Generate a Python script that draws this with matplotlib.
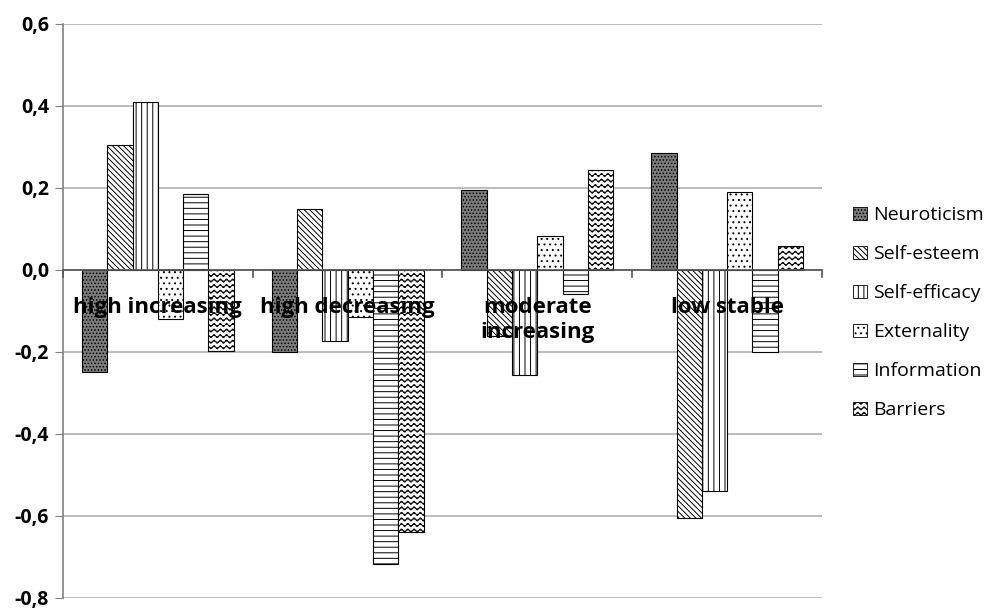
import numpy as np
import matplotlib
matplotlib.use("Agg")
import matplotlib.pyplot as plt
import matplotlib.hatch as mhatch
from matplotlib.path import Path
from matplotlib.patches import Patch
import warnings
warnings.filterwarnings("ignore")

categories = ["high increasing", "high decreasing", "moderate\nincreasing", "low stable"]
series = ["Neuroticism", "Self-esteem", "Self-efficacy", "Externality", "Information", "Barriers"]
neuroticism   = [-0.25, -0.20, 0.196, 0.286]
self_esteem   = [0.305, 0.148, -0.16, -0.605]
self_efficacy = [0.41, -0.172, -0.255, -0.538]
externality   = [-0.12, -0.114, 0.082, 0.19]
information   = [0.185, -0.718, -0.058, -0.20]
barriers      = [-0.197, -0.64, 0.245, 0.058]
values = [neuroticism, self_esteem, self_efficacy, externality, information, barriers]
yticks = [0.6, 0.4, 0.2, 0.0, -0.2, -0.4, -0.6, -0.8]


class WaveHatch(mhatch.HatchPatternBase):
    def __init__(self, hatch, density):
        self.num_lines = int(hatch.count('~') * density)
        self.nper = 16 * 8 + 1
        self.num_vertices = self.num_lines * self.nper

    def set_vertices_and_codes(self, vertices, codes):
        steps, stepsize = np.linspace(0.0, 1.0, self.num_lines, False, retstep=True)
        steps += stepsize / 2.
        t = np.linspace(0, 1, self.nper)
        amp = stepsize * 0.28
        for i, s in enumerate(steps):
            v = vertices[i * self.nper:(i + 1) * self.nper]
            v[:, 0] = t
            v[:, 1] = s + amp * np.sin(2 * np.pi * 16 * t)
            c = codes[i * self.nper:(i + 1) * self.nper]
            c[:] = Path.LINETO
            c[0] = Path.MOVETO


mhatch._hatch_types.append(WaveHatch)

plt.rcParams['font.family'] = ['Open Sans', 'DejaVu Sans']
plt.rcParams['hatch.linewidth'] = 0.7

fig = plt.figure(figsize=(9.87, 6.10), dpi=100)
ax = fig.add_axes([63 / 987, 12 / 610, (822 - 63) / 987, (598 - 24) / 610])

styles = [
    dict(facecolor='#7c7c7c', hatch='.....'),
    dict(facecolor='white', hatch='\\\\\\\\\\\\'),
    dict(facecolor='white', hatch='|||'),
    dict(facecolor='white', hatch='...'),
    dict(facecolor='white', hatch='---'),
    dict(facecolor='white', hatch='~~~'),
]

x = np.arange(len(categories))
n = len(series)
w = 0.8 / n
for i, (name, vals, st) in enumerate(zip(series, values, styles)):
    ax.bar(x - 0.4 + w * (i + 0.5), vals, width=w, edgecolor='black',
           linewidth=0.8, label=name, zorder=3, **st)

ax.set_xlim(-0.5, len(categories) - 0.5)
ax.set_ylim(-0.8, 0.6)
ax.set_yticks(yticks)
ax.set_yticklabels([f"{v:.1f}".replace('.', ',') for v in yticks],
                   fontsize=14, fontweight='bold')
ax.yaxis.grid(True, color='#b0b0b0', linewidth=1.2, zorder=0)
ax.tick_params(axis='y', length=6, color='#808080', pad=4)
ax.set_xticks([])
for s in ['top', 'right', 'bottom']:
    ax.spines[s].set_visible(False)
ax.spines['left'].set_color('#808080')
ax.spines['left'].set_linewidth(1.2)

# zero line with category tick marks
ax.axhline(0, color='#555555', linewidth=1.2, zorder=4)
for b in np.arange(len(categories) + 1) - 0.5:
    ax.plot([b, b], [0, -0.018], color='#555555', linewidth=1.2, zorder=4,
            clip_on=False)

for xi, c in zip(x, categories):
    ax.text(xi, -0.065, c, ha='center', va='top', fontsize=16,
            fontweight='bold', zorder=5, linespacing=1.3)

handles = [Patch(edgecolor='black', linewidth=0.6, label=nm, **st)
           for nm, st in zip(series, styles)]
fig.legend(handles=handles, loc='center left', bbox_to_anchor=(836 / 987, 1 - 313 / 610),
           frameon=False, fontsize=14, handlelength=0.7, handleheight=0.7,
           handletextpad=0.3, labelspacing=1.08)

fig.savefig("out.png", dpi=100)
